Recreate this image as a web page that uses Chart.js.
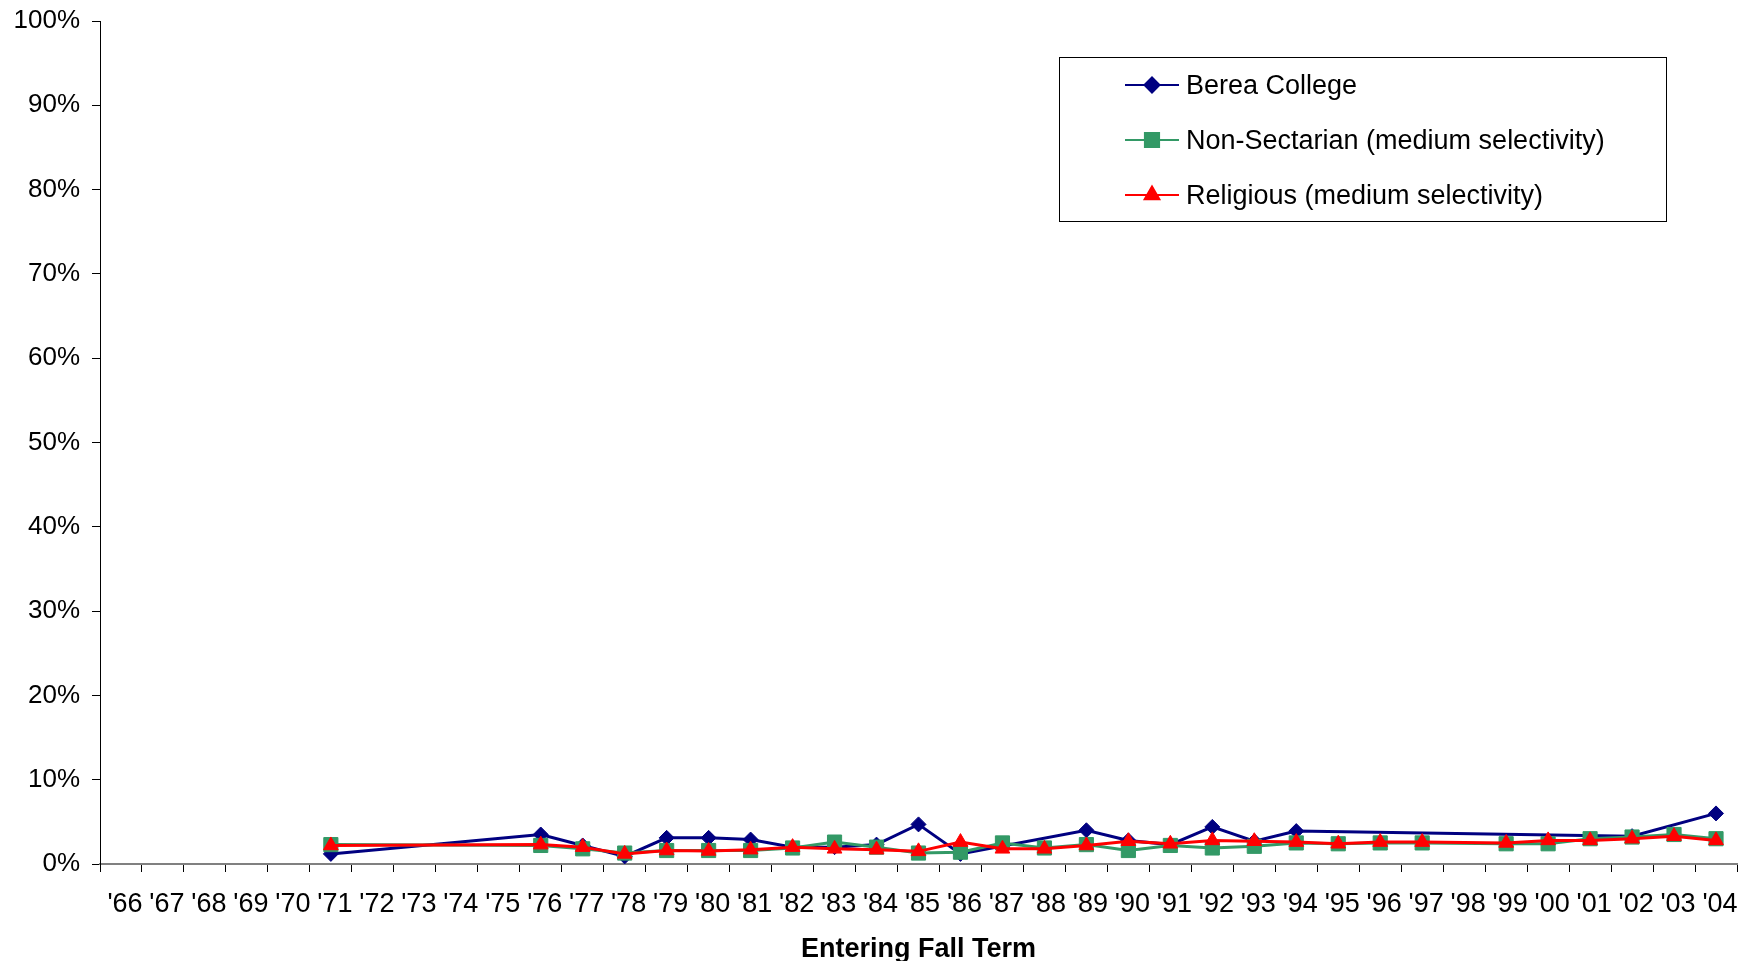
<!DOCTYPE html>
<html>
<head>
<meta charset="utf-8">
<script src="https://cdn.jsdelivr.net/npm/chart.js@4/dist/chart.umd.min.js"></script>
<style>
  html, body { margin: 0; padding: 0; background: #fff; }
  #wrap { width: 1741px; height: 961px; }
</style>
</head>
<body>
<div id="wrap"><canvas id="chartRetention" width="1741" height="961"></canvas></div>
<script>
const years = ["'66", "'67", "'68", "'69", "'70", "'71", "'72", "'73", "'74", "'75",
  "'76", "'77", "'78", "'79", "'80", "'81", "'82", "'83", "'84", "'85",
  "'86", "'87", "'88", "'89", "'90", "'91", "'92", "'93", "'94", "'95",
  "'96", "'97", "'98", "'99", "'00", "'01", "'02", "'03", "'04"];

// percent per entering fall term, null = no data that year
const berea = [null, null, null, null, null, 1.2, null, null, null, null,
  3.5, 2.2, 0.9, 3.1, 3.1, 2.9, 2.0, 2.0, 2.3, 4.7,
  1.2, null, null, 4.0, 2.8, 2.3, 4.4, 2.7, 3.9, null,
  null, null, null, null, null, null, 3.3, null, 6.0];

const nonSectarian = [null, null, null, null, null, 2.3, null, null, null, null,
  2.2, 1.8, 1.3, 1.6, 1.6, 1.6, 1.9, 2.6, 2.0, 1.3,
  1.4, 2.5, 1.9, 2.3, 1.6, 2.2, 1.9, 2.1, 2.5, 2.4,
  2.5, 2.5, null, 2.4, 2.4, 3.0, 3.2, 3.5, 3.0];

const religious = [null, null, null, null, null, 2.2, null, null, null, null,
  2.3, 2.0, 1.2, 1.6, 1.55, 1.7, 2.0, 1.8, 1.7, 1.5,
  2.6, 1.8, 1.8, 2.2, 2.7, 2.4, 2.8, 2.7, 2.6, 2.4,
  2.6, 2.6, null, 2.5, 2.8, 2.8, 3.0, 3.3, 2.8];

const seriesNames = [
  'Berea College',
  'Non-Sectarian (medium selectivity)',
  'Religious (medium selectivity)'
];

const FONT = "'Liberation Sans', Arial, sans-serif";

// boxed legend on the right, line sample with marker in the middle
const boxLegend = {
  id: 'boxLegend',
  afterDraw(chart) {
    const ctx = chart.ctx;
    const box = { x: 1059.5, y: 57.5, w: 607, h: 164 };
    ctx.save();
    ctx.fillStyle = '#fff';
    ctx.fillRect(box.x, box.y, box.w, box.h);
    ctx.strokeStyle = '#000';
    ctx.lineWidth = 1;
    ctx.strokeRect(box.x, box.y, box.w, box.h);
    chart.data.datasets.forEach((ds, i) => {
      const y = 85 + i * 55;
      ctx.strokeStyle = ds.borderColor;
      ctx.lineWidth = 2;
      ctx.beginPath();
      ctx.moveTo(1125, y);
      ctx.lineTo(1179, y);
      ctx.stroke();
      ctx.fillStyle = ds.pointBackgroundColor;
      ctx.strokeStyle = ds.pointBorderColor;
      Chart.helpers.drawPoint(ctx, {
        pointStyle: ds.pointStyle, radius: ds.pointRadius, rotation: 0, borderWidth: 1
      }, 1152, y);
      ctx.fillStyle = '#000';
      ctx.font = '27px ' + FONT;
      ctx.textBaseline = 'middle';
      ctx.textAlign = 'left';
      ctx.fillText(ds.label, 1186, y + 2);
    });
    ctx.restore();
  }
};

const ctxRet = document.getElementById('chartRetention').getContext('2d');
new Chart(ctxRet, {
  type: 'line',
  data: {
    labels: years,
    datasets: [
      {
        label: seriesNames[0],
        data: berea,
        borderColor: '#000080',
        backgroundColor: '#000080',
        pointBackgroundColor: '#000080',
        pointBorderColor: '#000080',
        pointStyle: 'rectRot',
        pointRadius: 7.5,
        order: 3
      },
      {
        label: seriesNames[1],
        data: nonSectarian,
        borderColor: '#339966',
        backgroundColor: '#339966',
        pointBackgroundColor: '#339966',
        pointBorderColor: '#339966',
        pointStyle: 'rect',
        pointRadius: 10,
        order: 2
      },
      {
        label: seriesNames[2],
        data: religious,
        borderColor: '#ff0000',
        backgroundColor: '#ff0000',
        pointBackgroundColor: '#ff0000',
        pointBorderColor: '#ff0000',
        pointStyle: 'triangle',
        pointRadius: 8.5,
        order: 1
      }
    ]
  },
  options: {
    responsive: false,
    animation: false,
    spanGaps: true,
    elements: {
      line: { borderWidth: 3, tension: 0 },
      point: { borderWidth: 1, hoverRadius: 9 }
    },
    layout: {
      autoPadding: false,
      padding: { top: 21, right: 4, left: 0, bottom: 0 }
    },
    scales: {
      x: {
        offset: true,
        grid: {
          offset: true,
          drawOnChartArea: false,
          tickLength: 8,
          color: '#000'
        },
        border: { color: '#808080', width: 2 },
        ticks: {
          autoSkip: false,
          maxRotation: 0,
          padding: 16,
          labelOffset: 4,
          color: '#000',
          font: { family: FONT, size: 27 }
        },
        title: {
          display: true,
          text: 'Entering Fall Term',
          color: '#000',
          padding: { top: 0, bottom: 0 },
          font: { family: FONT, size: 27, weight: 'bold', lineHeight: 0.85 }
        },
        afterFit: scale => {
          scale.height = 97;
          scale.paddingLeft = 0;
          scale.paddingRight = 0;
        }
      },
      y: {
        min: 0,
        max: 100,
        grid: {
          drawOnChartArea: false,
          tickLength: 8,
          color: '#000'
        },
        border: { color: '#000', width: 1 },
        ticks: {
          stepSize: 10,
          padding: 12,
          color: '#000',
          font: { family: FONT, size: 26 },
          callback: value => value + '%'
        },
        afterFit: scale => {
          scale.width = 100;
          scale.paddingTop = 0;
          scale.paddingBottom = 0;
        }
      }
    },
    plugins: {
      legend: { display: false },
      tooltip: { enabled: false }
    }
  },
  plugins: [boxLegend]
});
</script>
</body>
</html>
